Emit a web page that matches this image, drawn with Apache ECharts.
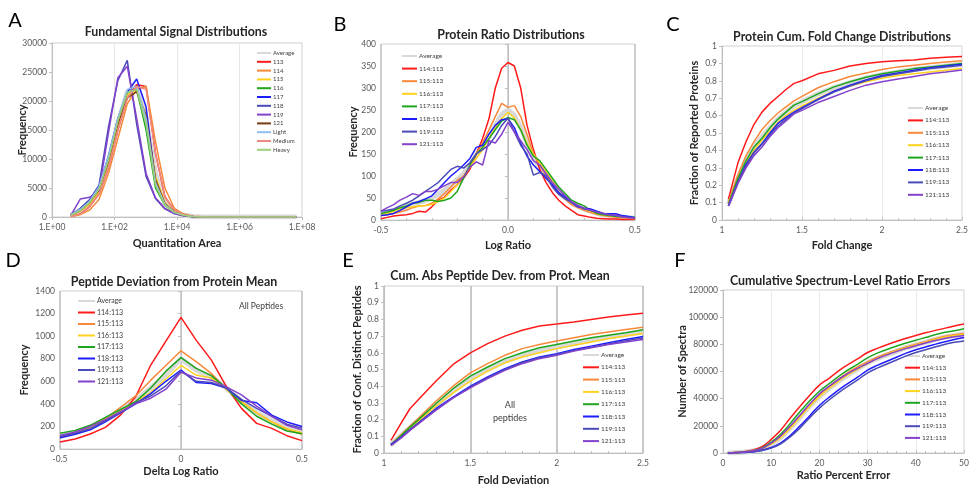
<!DOCTYPE html>
<html><head><meta charset="utf-8">
<script src="https://cdn.jsdelivr.net/npm/echarts@6/dist/echarts.min.js"></script>
<style>html,body{margin:0;padding:0;background:#fff}#c{width:974px;height:487px}</style>
</head><body><div id="c"></div>
<script>
// ---------- Panel A: Fundamental Signal Distributions ----------
const aX = [4,8,16,32,64,128,256,512,1024,2048,4096,8192,16384,32768,65536,131072,262144,524288,1048576,2097152,4194304,8388608,16777216,33554432,67108864];
const aNames = ['Average','113','114','115','116','117','118','119','121','Light','Medium','Heavy'];
const aAvg    = [300,1000,2300,4300,9500,16000,21500,22500,17000,7500,2500,900,300,80,20,0,0,0,0,0,0,0,0,0,0];
const a113    = [100,500,1800,4000,8500,15000,20500,22800,22500,11000,3500,1200,400,100,20,0,0,0,0,0,0,0,0,0,0];
const a114    = [100,400,1200,3000,7500,13500,19500,22000,22500,13000,5000,1500,500,150,30,0,0,0,0,0,0,0,0,0,0];
const a115    = [300,1000,2200,4300,9000,15500,21000,22000,17500,7000,2500,900,300,80,20,0,0,0,0,0,0,0,0,0,0];
const a116    = [400,1200,2600,5000,10000,16500,21500,22000,15000,5000,2000,800,300,80,20,0,0,0,0,0,0,0,0,0,0];
const a117    = [400,1300,2800,5200,10500,17000,21500,23800,19000,6000,2200,800,300,80,20,0,0,0,0,0,0,0,0,0,0];
const a118    = [300,1500,3000,5500,15500,23500,27000,16000,7000,3200,1400,600,200,50,0,0,0,0,0,0,0,0,0,0,0];
const a119    = [300,3100,3400,4500,14500,24000,26000,17000,7500,3300,1500,600,200,50,0,0,0,0,0,0,0,0,0,0,0];
const a121    = [300,1100,2500,4700,9500,16000,20500,21600,17500,6500,2300,800,300,80,20,0,0,0,0,0,0,0,0,0,0];
const aLight  = [400,1300,2700,5200,10500,17000,22000,22500,17000,6000,2200,800,300,80,20,0,0,0,0,0,0,0,0,0,0];
const aMedium = [100,500,1800,4000,8500,15000,20500,22500,22000,11000,3500,1200,400,100,20,0,0,0,0,0,0,0,0,0,0];
const aHeavy  = [300,1100,2500,4800,9800,16500,21500,22000,16000,5500,2000,800,300,80,20,0,0,0,0,0,0,0,0,0,0];
const aTicks  = ['1.E+00','1.E+02','1.E+04','1.E+06','1.E+08'];

// ---------- Common names for panels B-F ----------
const rNames = ['Average','114:113','115:113','116:113','117:113','118:113','119:113','121:113'];

// ---------- Panel B: Protein Ratio Distributions ----------
const bX = [-0.5,-0.475,-0.45,-0.425,-0.4,-0.375,-0.35,-0.325,-0.3,-0.275,-0.25,-0.225,-0.2,-0.175,-0.15,-0.125,-0.1,-0.075,-0.05,-0.025,0,0.025,0.05,0.075,0.1,0.125,0.15,0.175,0.2,0.225,0.25,0.275,0.3,0.325,0.35,0.375,0.4,0.425,0.45,0.475,0.5];
const bAvg = [13,16,20,25,30,36,40,44,50,58,68,80,92,105,125,148,165,190,215,240,250,238,212,175,140,120,100,82,64,50,39,31,25,20,15,12,10,8,6,5,4];
const b114 = [3,6,9,11,12,15,20,18,30,45,52,68,80,95,115,150,185,230,300,345,358,350,300,215,160,115,85,62,45,32,22,12,9,6,4,3,2,2,1,1,1];
const b115 = [10,12,15,18,22,28,32,33,38,48,60,75,90,100,120,150,175,205,235,265,256,260,235,195,150,125,100,80,62,48,35,28,22,17,13,10,8,7,5,4,3];
const b116 = [12,15,20,25,28,30,32,33,35,42,50,65,80,100,120,140,160,185,210,230,245,232,205,175,150,130,110,90,70,52,40,32,25,20,15,12,10,8,6,5,4];
const b117 = [15,18,22,28,32,38,40,45,45,42,45,50,65,95,125,150,165,185,205,225,233,228,205,170,145,135,115,95,75,60,45,38,32,22,15,12,10,8,7,6,6];
const b118 = [10,12,15,22,30,38,42,48,55,70,85,100,112,125,140,165,170,195,215,228,230,210,175,145,125,110,95,80,62,52,40,30,27,25,20,15,14,14,10,8,5];
const b119 = [20,22,25,32,38,45,55,65,75,85,100,115,122,118,130,150,160,170,190,215,232,200,170,150,102,108,100,75,58,48,40,32,25,22,18,15,12,10,8,6,5];
const b121 = [20,28,35,45,52,60,56,65,65,70,78,85,85,98,120,132,125,180,175,195,222,200,180,160,135,125,105,85,70,55,42,33,27,22,18,14,12,10,7,5,4];

// ---------- Panel C: Protein Cum. Fold Change Distributions ----------
const cX = [1.04,1.1,1.15,1.2,1.25,1.3,1.35,1.4,1.45,1.5,1.6,1.7,1.8,1.9,2.0,2.1,2.2,2.3,2.4,2.5];
const cAvg = [0.09,0.24,0.34,0.42,0.48,0.53,0.58,0.62,0.655,0.68,0.725,0.76,0.79,0.815,0.835,0.85,0.865,0.875,0.885,0.895];
const c114 = [0.12,0.33,0.45,0.55,0.62,0.67,0.71,0.75,0.785,0.80,0.84,0.86,0.885,0.90,0.91,0.915,0.92,0.93,0.935,0.94];
const c115 = [0.10,0.26,0.37,0.45,0.52,0.57,0.615,0.65,0.685,0.71,0.76,0.795,0.825,0.845,0.865,0.88,0.89,0.90,0.908,0.915];
const c116 = [0.09,0.23,0.33,0.40,0.46,0.51,0.56,0.60,0.63,0.655,0.70,0.74,0.77,0.795,0.815,0.83,0.84,0.85,0.86,0.87];
const c117 = [0.09,0.24,0.34,0.42,0.47,0.53,0.58,0.62,0.66,0.68,0.725,0.765,0.795,0.82,0.84,0.855,0.87,0.88,0.89,0.90];
const c118 = [0.08,0.22,0.32,0.39,0.44,0.50,0.555,0.59,0.62,0.645,0.695,0.74,0.775,0.805,0.83,0.845,0.86,0.875,0.885,0.895];
const c119 = [0.08,0.22,0.31,0.385,0.435,0.49,0.54,0.58,0.615,0.64,0.69,0.735,0.77,0.80,0.825,0.84,0.855,0.87,0.88,0.89];
const c121 = [0.08,0.21,0.30,0.37,0.42,0.48,0.53,0.57,0.61,0.63,0.675,0.71,0.745,0.775,0.795,0.81,0.825,0.84,0.85,0.862];

// ---------- Panel D: Peptide Deviation from Protein Mean ----------
const dX = [-0.5,-0.4375,-0.375,-0.3125,-0.25,-0.1875,-0.125,-0.0625,0,0.0625,0.125,0.1875,0.25,0.3125,0.375,0.4375,0.5];
const dAvg = [110,145,190,260,340,430,540,660,800,700,640,540,420,320,250,185,150];
const d114 = [62,88,133,192,300,463,744,955,1166,965,790,552,360,227,183,118,74];
const d115 = [110,150,200,270,370,470,610,740,870,775,670,530,420,320,240,175,130];
const d116 = [110,140,190,260,340,420,500,620,740,655,630,530,420,320,240,180,145];
const d117 = [140,165,210,280,350,420,540,690,810,715,650,540,400,290,220,160,135];
const d118 = [100,130,170,240,320,400,490,600,700,590,580,540,430,410,300,240,200];
const d119 = [110,140,180,250,320,410,470,560,690,600,590,540,440,360,290,220,185];
const d121 = [120,150,200,260,330,400,450,530,680,630,610,550,480,380,290,210,170];

// ---------- Panel E: Cum. Abs Peptide Dev. from Prot. Mean ----------
const eX = [1.04,1.1,1.15,1.2,1.3,1.4,1.5,1.6,1.7,1.8,1.9,2.0,2.1,2.2,2.3,2.4,2.5];
const eAvg = [0.05,0.105,0.15,0.195,0.285,0.37,0.445,0.50,0.55,0.585,0.61,0.635,0.655,0.675,0.695,0.71,0.725];
const e114 = [0.075,0.18,0.265,0.32,0.43,0.53,0.60,0.655,0.70,0.735,0.76,0.772,0.785,0.80,0.815,0.826,0.837];
const e115 = [0.05,0.11,0.16,0.21,0.31,0.40,0.48,0.535,0.585,0.625,0.65,0.67,0.69,0.71,0.725,0.74,0.753];
const e116 = [0.045,0.10,0.145,0.19,0.28,0.36,0.43,0.49,0.54,0.575,0.60,0.625,0.645,0.665,0.685,0.70,0.715];
const e117 = [0.05,0.105,0.155,0.20,0.295,0.385,0.46,0.515,0.565,0.60,0.63,0.65,0.67,0.69,0.705,0.72,0.738];
const e118 = [0.05,0.095,0.14,0.18,0.265,0.335,0.40,0.455,0.505,0.545,0.575,0.595,0.62,0.64,0.66,0.68,0.697];
const e119 = [0.045,0.093,0.137,0.177,0.26,0.33,0.395,0.45,0.50,0.54,0.57,0.59,0.613,0.633,0.653,0.672,0.688];
const e121 = [0.045,0.09,0.135,0.175,0.255,0.33,0.39,0.445,0.495,0.535,0.565,0.585,0.61,0.63,0.65,0.665,0.68];

// ---------- Panel F: Cumulative Spectrum-Level Ratio Errors ----------
const fX = [1,2,4,6,8,10,12,14,16,18,20,22,25,28,30,32,35,38,40,42,45,48,50];
const fAvg = [80,170,500,1300,3000,6500,11500,18500,26500,34500,41500,47500,55500,62000,66500,69500,73500,77500,79500,81500,84500,86500,88000];
const f114 = [100,200,800,2000,4500,10000,17000,26000,34500,42500,50000,55000,63000,69500,74000,77000,81000,84500,86500,88500,91000,93500,95000];
const f115 = [100,200,600,1500,3300,7000,12500,19500,27500,35500,43000,49000,57000,63500,67000,70500,74500,78000,80000,82000,85000,87000,88000];
const f116 = [100,200,500,1300,3000,6500,11500,18500,26500,34500,41500,47500,55500,62000,66000,69500,74000,77500,79500,81500,84500,86500,87500];
const f117 = [100,200,600,1500,3500,8000,14000,22000,30500,38500,45500,51000,59000,65500,70000,73500,77500,81000,83000,85000,88000,90000,91500];
const f118 = [50,100,300,800,2000,4000,7500,13000,20000,27500,35000,41000,49000,56000,61000,64500,69000,73500,76000,78000,81000,83500,85000];
const f119 = [50,100,300,700,1800,3600,6800,12000,18500,26000,33000,39000,47000,54000,59000,62500,67000,71500,74000,76000,79000,81500,82500];
const f121 = [100,200,600,1500,3300,7200,12800,20000,28000,36000,43500,49000,56500,62500,66000,69500,73500,77000,79000,81000,83500,85500,86500];

// ---------- styling ----------
const FONT = 'Lato';
const aColors = ['#d9d9d9','#ff1a1a','#f7883a','#ffd21f','#1fa61f','#1c1cff','#4a4ab8','#8442cc','#7a3b0c','#8fbfef','#f08a80','#9bd07a'];
const rColors = ['#d9d9d9','#ff1a1a','#f7883a','#ffd21f','#1fa61f','#1c1cff','#4a4ab8','#8442cc'];

const grids = [
  {left:52, top:43, width:250, height:174},
  {left:381, top:44, width:254, height:176},
  {left:722, top:46, width:240, height:174},
  {left:60, top:291, width:242, height:158},
  {left:384, top:286, width:259, height:171},
  {left:723, top:290, width:241, height:163}
].map(g => Object.assign(g, {show:true, borderColor:'#d0d0d0', borderWidth:1, backgroundColor:'transparent'}));

const plain = v => String(v);
const tickLbl = {color:'#595959', fontSize:8.5, fontFamily:FONT};
const nameSt = {color:'#262626', fontSize:11, fontWeight:'bold', fontFamily:FONT};
const axLine = {show:true, lineStyle:{color:'#bfbfbf', width:1}};

function xAx(gi, o) {
  return Object.assign({
    gridIndex:gi, type:'value', nameLocation:'middle', nameGap:24, nameMoveOverlap:false, nameTextStyle:nameSt,
    axisLine:axLine, axisTick:{show:true, inside:true, length:3, lineStyle:{color:'#bfbfbf'}},
    axisLabel:Object.assign({margin:6, formatter:plain}, tickLbl), splitLine:{show:false}
  }, o);
}
function yAx(gi, o) {
  return Object.assign({
    gridIndex:gi, type:'value', nameLocation:'middle', nameGap:30, nameMoveOverlap:false, nameTextStyle:nameSt,
    axisLine:axLine, axisTick:{show:true, length:3, lineStyle:{color:'#bfbfbf'}},
    axisLabel:Object.assign({margin:5, formatter:plain}, tickLbl), splitLine:{show:false}
  }, o);
}
const dec1 = v => String(Math.round(v*10)/10);

const xAxis = [
  xAx(0, {type:'log', logBase:10, min:1, max:1e8, interval:2, name:'Quantitation Area', nameGap:21,
    axisTick:{show:true, inside:false, length:3, lineStyle:{color:'#bfbfbf'}},
    axisLabel:Object.assign({margin:6, formatter: v => aTicks[Math.round(Math.log10(v)/2)]}, tickLbl),
    splitLine:{show:true, lineStyle:{color:'#e8e8e8'}}}),
  xAx(1, {min:-0.5, max:0.5, interval:0.5, name:'Log Ratio', nameGap:20,
    axisLabel:Object.assign({margin:6, formatter: v => v.toFixed(1)}, tickLbl),
    minorTick:{show:true, splitNumber:5, length:2, lineStyle:{color:'#bfbfbf'}},
    splitLine:{show:true, lineStyle:{color:'#c4c4c4', width:1.5}}}),
  xAx(2, {min:1, max:2.5, interval:0.5, name:'Fold Change', nameGap:20,
    axisLabel:Object.assign({margin:6, formatter: dec1}, tickLbl),
    minorTick:{show:true, splitNumber:5, length:2, lineStyle:{color:'#bfbfbf'}},
    splitLine:{show:true, lineStyle:{color:'#ebebeb'}}}),
  xAx(3, {min:-0.5, max:0.5, interval:0.5, name:'Delta Log Ratio', nameGap:17,
    axisLabel:Object.assign({margin:6, formatter: dec1}, tickLbl),
    splitLine:{show:true, lineStyle:{color:'#c4c4c4', width:1.5}}}),
  xAx(4, {min:1, max:2.5, interval:0.5, name:'Fold Deviation', nameGap:22,
    axisLabel:Object.assign({margin:6, formatter: dec1}, tickLbl),
    minorTick:{show:true, splitNumber:5, length:2, lineStyle:{color:'#bfbfbf'}},
    splitLine:{show:true, lineStyle:{color:'#c8c8c8', width:2}}}),
  xAx(5, {min:0, max:50, interval:10, name:'Ratio Percent Error', nameGap:17,
    minorTick:{show:true, splitNumber:5, length:2, lineStyle:{color:'#bfbfbf'}},
    splitLine:{show:true, lineStyle:{color:'#ebebeb'}}})
];
const yAxis = [
  yAx(0, {min:0, max:30000, interval:5000, name:'Frequency', nameGap:24}),
  yAx(1, {min:0, max:400, interval:50, name:'Frequency', nameGap:22}),
  yAx(2, {min:0, max:1, interval:0.1, name:'Fraction of Reported Proteins', nameGap:22, axisLabel:Object.assign({margin:5, formatter: dec1}, tickLbl)}),
  yAx(3, {min:0, max:1400, interval:200, name:'Frequency', nameGap:30}),
  yAx(4, {min:0, max:1, interval:0.1, name:'Fraction of Conf. Distinct Peptides', nameGap:21, axisLabel:Object.assign({margin:5, formatter: dec1}, tickLbl)}),
  yAx(5, {min:0, max:120000, interval:20000, name:'Number of Spectra', nameGap:35})
];

const series = [];
function addSeries(gi, names, colors, x, ys, smooth) {
  ys.forEach((y, i) => {
    series.push({
      type:'line', name:names[i], xAxisIndex:gi, yAxisIndex:gi,
      data: x.map((v, j) => [v, y[j]]),
      showSymbol:false, symbol:'none', smooth: smooth || false,
      z: i === 0 ? 1 : 2 + i,
      lineStyle:{color:colors[i], width: i === 0 ? 5 : 1.5},
      itemStyle:{color:colors[i]}
    });
  });
}
addSeries(0, aNames, aColors, aX, [aAvg,a113,a114,a115,a116,a117,a118,a119,a121,aLight,aMedium,aHeavy]);
addSeries(1, rNames, rColors, bX, [bAvg,b114,b115,b116,b117,b118,b119,b121]);
addSeries(2, rNames, rColors, cX, [cAvg,c114,c115,c116,c117,c118,c119,c121]);
addSeries(3, rNames, rColors, dX, [dAvg,d114,d115,d116,d117,d118,d119,d121]);
addSeries(4, rNames, rColors, eX, [eAvg,e114,e115,e116,e117,e118,e119,e121]);
addSeries(5, rNames, rColors, fX, [fAvg,f114,f115,f116,f117,f118,f119,f121], 0.4);

function leg(names, left, top, iw, gap, fs) {
  return {data:names, left:left, top:top, orient:'vertical', icon:'rect', itemWidth:iw, itemHeight:2,
    itemGap:gap, selectedMode:false, padding:0,
    textStyle:{fontSize:fs, lineHeight:8, color:'#404040', fontFamily:FONT, padding:[0,0,0,-3]}};
}
const legend = [
  leg(aNames, 257, 49, 14, 0.8, 6),
  leg(rNames, 402, 52, 15, 4.6, 6.5),
  leg(rNames, 908, 104, 15, 4.4, 6.5),
  leg(rNames, 78, 297, 17, 3.5, 7),
  leg(rNames, 583, 351, 16, 4.3, 6.5),
  leg(rNames, 905, 352, 15, 3.7, 6.5)
];

function txt(t, x, y, font, color) {
  return {type:'text', x:x, y:y, silent:true, style:{text:t, font:font, fill:color||'#262626', align:'center', verticalAlign:'middle'}};
}
const TF = 'bold 12.4px ' + FONT;
const LF = '20px ' + FONT;
const graphic = [
  txt('Fundamental Signal Distributions', 176, 32, TF),
  txt('Protein Ratio Distributions', 511, 35, TF),
  txt('Protein Cum. Fold Change Distributions', 842, 37, TF),
  txt('Peptide Deviation from Protein Mean', 174, 282, TF),
  txt('Cum. Abs Peptide Dev. from Prot. Mean', 500, 276, TF),
  txt('Cumulative Spectrum-Level Ratio Errors', 840, 281, TF),
  txt('A', 15, 21, LF, '#000'), txt('B', 340, 25, LF, '#000'), txt('C', 673, 25, LF, '#000'),
  txt('D', 13, 261, LF, '#000'), txt('E', 348, 261, LF, '#000'), txt('F', 680, 261, LF, '#000'),
  txt('All Peptides', 261, 306, '8.5px ' + FONT, '#404040'),
  txt('All', 510, 405, '9px ' + FONT, '#404040'),
  txt('peptides', 510, 418, '9px ' + FONT, '#404040')
];

const chart = echarts.init(document.getElementById('c'), null, {renderer:'canvas'});
chart.setOption({
  animation:false, backgroundColor:'#ffffff', textStyle:{fontFamily:FONT},
  grid:grids, xAxis:xAxis, yAxis:yAxis, series:series, legend:legend, graphic:graphic
});
</script></body></html>
